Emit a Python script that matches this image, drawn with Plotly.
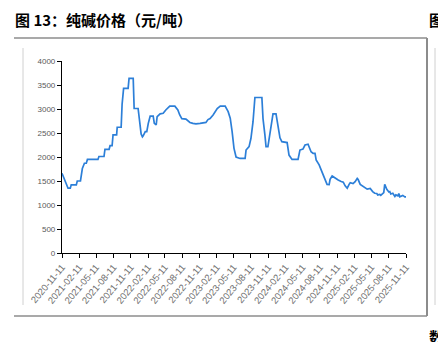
import plotly.graph_objects as go

# Soda ash spot price, CNY per tonne
dates = [
    "2020-11-11", "2020-11-20", "2020-12-01", "2020-12-13", "2020-12-25", "2020-12-30",
    "2021-01-26", "2021-01-31", "2021-02-17", "2021-02-27", "2021-03-10", "2021-03-20",
    "2021-03-26", "2021-05-21", "2021-05-26", "2021-06-22", "2021-06-27", "2021-07-19",
    "2021-07-24", "2021-08-04", "2021-08-09", "2021-08-28", "2021-08-31", "2021-09-21",
    "2021-09-26", "2021-10-04", "2021-10-28", "2021-11-02", "2021-11-24", "2021-11-29",
    "2021-12-20", "2021-12-31", "2022-01-05", "2022-01-12", "2022-01-16", "2022-01-27",
    "2022-02-04", "2022-02-12", "2022-02-22", "2022-03-10", "2022-03-16", "2022-03-26",
    "2022-03-31", "2022-04-16", "2022-05-02", "2022-05-16", "2022-06-06", "2022-07-03",
    "2022-07-19", "2022-07-29", "2022-08-09", "2022-08-31", "2022-09-10", "2022-09-21",
    "2022-10-07", "2022-10-23", "2022-11-14", "2022-11-30", "2022-12-15", "2022-12-26",
    "2023-01-06", "2023-01-22", "2023-02-13", "2023-03-01", "2023-03-27", "2023-04-12",
    "2023-04-23", "2023-05-03", "2023-05-13", "2023-05-24", "2023-06-14", "2023-07-11",
    "2023-07-16", "2023-08-01", "2023-08-11", "2023-08-22", "2023-09-01", "2023-10-08",
    "2023-10-14", "2023-10-24", "2023-10-30", "2023-11-09", "2023-11-20", "2023-11-30",
    "2023-12-06", "2023-12-22", "2024-01-01", "2024-01-12", "2024-01-22", "2024-02-19",
    "2024-02-29", "2024-03-16", "2024-04-17", "2024-04-27", "2024-05-13", "2024-05-24",
    "2024-06-09", "2024-06-14", "2024-06-25", "2024-07-06", "2024-07-16", "2024-07-22",
    "2024-08-07", "2024-08-23", "2024-09-08", "2024-09-18", "2024-09-29", "2024-10-04",
    "2024-10-15", "2024-10-31", "2024-11-16", "2024-12-02", "2024-12-13", "2024-12-23",
    "2025-01-03", "2025-01-13", "2025-01-19", "2025-02-03", "2025-02-14", "2025-02-25",
    "2025-03-02", "2025-03-13", "2025-03-29", "2025-04-14", "2025-04-19", "2025-05-05",
    "2025-05-13", "2025-05-18", "2025-05-29", "2025-06-09", "2025-06-14", "2025-06-25",
    "2025-06-30", "2025-07-11", "2025-07-16", "2025-07-21", "2025-07-27", "2025-08-01",
    "2025-08-12", "2025-08-17", "2025-08-22", "2025-09-02", "2025-09-13", "2025-09-18",
    "2025-09-29", "2025-10-04", "2025-10-09", "2025-10-20", "2025-10-25", "2025-11-05",
    "2025-11-11",
]
prices = [
    1660, 1560, 1450, 1350, 1350, 1420,
    1420, 1500, 1500, 1760, 1870, 1870,
    1950, 1950, 2010, 2010, 2160, 2160,
    2235, 2235, 2460, 2460, 2620, 2620,
    3100, 3430, 3430, 3640, 3640, 3010,
    3010, 2700, 2480, 2420, 2440, 2530,
    2530, 2700, 2850, 2850, 2700, 2670,
    2840, 2900, 2910, 2980, 3060, 3060,
    2980, 2875, 2800, 2790, 2760, 2720,
    2700, 2690, 2700, 2710, 2720, 2780,
    2800, 2875, 3010, 3060, 3060, 2945,
    2810, 2530, 2180, 2000, 1970, 1970,
    2145, 2215, 2390, 2735, 3240, 3240,
    2800, 2460, 2215, 2215, 2530, 2800,
    2900, 2900, 2670, 2400, 2320, 2300,
    2040, 1950, 1950, 2145, 2165, 2250,
    2265, 2215, 2110, 2075, 2075, 1940,
    1835, 1680, 1520, 1430, 1425, 1535,
    1605, 1555, 1520, 1490, 1475, 1400,
    1350, 1430, 1465, 1445, 1485, 1555,
    1530, 1430, 1390, 1350, 1330, 1345,
    1300, 1280, 1245, 1240, 1210, 1220,
    1200, 1240, 1260, 1430, 1360, 1325,
    1270, 1280, 1230, 1245, 1180, 1210,
    1190, 1240, 1170, 1190, 1200, 1170,
    1170,
]

# Quarterly date ticks and value ticks
tick_dates = [
    "2020-11-11", "2021-02-11", "2021-05-11", "2021-08-11", "2021-11-11",
    "2022-02-11", "2022-05-11", "2022-08-11", "2022-11-11", "2023-02-11",
    "2023-05-11", "2023-08-11", "2023-11-11", "2024-02-11", "2024-05-11",
    "2024-08-11", "2024-11-11", "2025-02-11", "2025-05-11", "2025-08-11",
    "2025-11-11",
]
y_ticks = [0, 500, 1000, 1500, 2000, 2500, 3000, 3500, 4000]

title_text = "图 13：纯碱价格（元/吨）"

W, H = 438, 342
L, R, T, B = 62, 32, 61, 89
PW, PH = W - L - R, H - T - B


def px(x):
    return (x - L) / PW


def py(y):
    return (H - B - y) / PH


fig = go.Figure()
fig.add_trace(go.Scatter(
    x=dates, y=prices, mode="lines",
    line=dict(color="#2C7FD8", width=1.7),
    hoverinfo="skip",
))

fig.update_xaxes(
    type="date",
    range=["2020-11-11", "2025-11-11"],
    tickvals=tick_dates,
    ticktext=tick_dates,
    tickangle=-50,
    tickfont=dict(family="Liberation Sans, Arial, sans-serif", size=9.5, color="#707070"),
    ticks="outside", ticklen=4, tickcolor="#000000", tickwidth=1,
    showline=True, linecolor="#000000", linewidth=1,
    showgrid=False, zeroline=False,
)
fig.update_yaxes(
    range=[0, 4000],
    tickvals=y_ticks,
    tickfont=dict(family="Liberation Sans, Arial, sans-serif", size=8, color="#595959"),
    ticks="outside", ticklen=4, tickcolor="#000000", tickwidth=1,
    showline=True, linecolor="#000000", linewidth=1.2,
    showgrid=False, zeroline=False,
)

frame = "#8C8C8C"
shapes = [
    # page rules around the figure block
    dict(type="line", xref="paper", yref="paper", x0=px(14), x1=px(427), y0=py(38), y1=py(38),
         line=dict(color=frame, width=1.5)),
    dict(type="line", xref="paper", yref="paper", x0=px(14), x1=px(427), y0=py(316), y1=py(316),
         line=dict(color=frame, width=1.5)),
    dict(type="line", xref="paper", yref="paper", x0=px(427), x1=px(427), y0=py(38), y1=py(316),
         line=dict(color=frame, width=2)),
    # inner chart borders
    dict(type="line", xref="paper", yref="paper", x0=px(23), x1=px(23), y0=py(48), y1=py(305),
         line=dict(color="#D0D0D0", width=1)),
    dict(type="line", xref="paper", yref="paper", x0=px(435), x1=px(435), y0=py(48), y1=py(305),
         line=dict(color="#D0D0D0", width=1)),
]

cjk = dict(family="Noto Sans CJK SC", size=15, color="#000000")
annotations = [
    dict(text="<b>" + title_text + "</b>", xref="paper", yref="paper",
         x=px(13), y=py(20), xanchor="left", yanchor="middle", showarrow=False, font=cjk),
    dict(text="<b>图</b>", xref="paper", yref="paper",
         x=px(427), y=py(20), xanchor="left", yanchor="middle", showarrow=False, font=cjk),
    dict(text="<b>数</b>", xref="paper", yref="paper",
         x=px(427), y=py(336), xanchor="left", yanchor="middle", showarrow=False, font=cjk),
]

fig.update_layout(
    width=W, height=H,
    margin=dict(l=L, r=R, t=T, b=B),
    paper_bgcolor="#FFFFFF", plot_bgcolor="#FFFFFF",
    showlegend=False,
    shapes=shapes,
    annotations=annotations,
)

fig.write_html("out.html", config={"displayModeBar": False})
